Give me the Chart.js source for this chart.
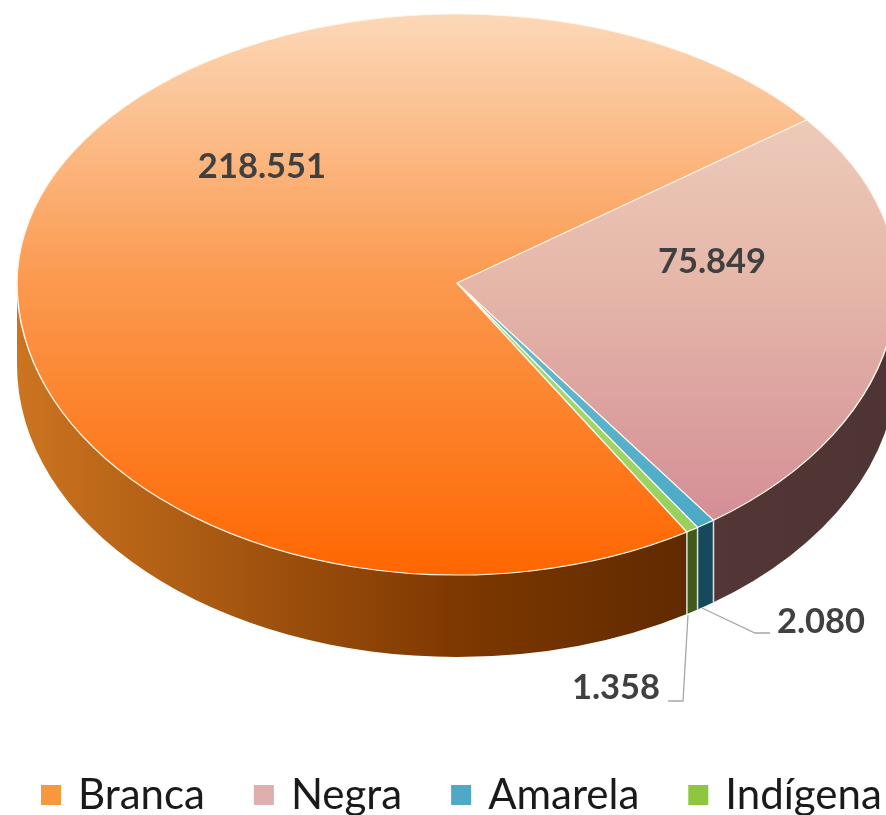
<!DOCTYPE html>
<html>
<head>
    <meta charset="utf-8">
    <title>Branca Negra Amarela Indígena</title>
    <script src="https://cdn.jsdelivr.net/npm/chart.js"></script>
    <style>
        html, body {
            margin: 0;
            background-color: #ffffff;
            overflow: hidden;
            width: 886px;
            height: 815px;
        }
        #chart {
            position: absolute;
            left: -8px;
            top: 0;
        }
    </style>
</head>
<body>
    <canvas id="chart" width="960" height="826"></canvas>

    <script>
        // Values
        const categories = ['Branca', 'Negra', 'Amarela', 'Indígena'];
        const values = [218551, 75849, 2080, 1358];
        const valueLabels = ['218.551', '75.849', '2.080', '1.358'];

        // Top face gradient per slice (top, apex height, bottom)
        const faceColors = [
            ['#fcd8b8', '#fb994e', '#ff6600'],
            ['#f2d6c4', '#e5b7a9', '#d08592'],
            ['#a9dbe8', '#6fbcd2', '#43a6c4'],
            ['#d3eab0', '#b0da7c', '#92cf56']
        ];
        // Side wall gradient per slice (left to right across the pie)
        const sideColors = [
            ['#cc7420', '#7e3800', '#451e00'],
            ['#6a4646', '#5a3a3a', '#4e3434'],
            ['#17495c', '#17495c', '#17495c'],
            ['#41591a', '#41591a', '#41591a']
        ];
        const legendColors = ['#f8973e', '#e0aeac', '#4fa8c5', '#8fc640'];

        // Pie placement on the canvas (canvas sits 8px left of the window)
        const centerX = 465;
        const apexY = 283;
        const radius = 440;
        const topRadiusY = 269;
        const bottomRadiusY = 292;
        const depth = 82;

        // Where the value labels sit, in canvas pixels
        const labelSpots = [
            { x: 270, y: 167 },
            { x: 720, y: 262 },
            { x: 829, y: 622 },
            { x: 624, y: 688 }
        ];
        const leaderLines = [
            null,
            null,
            [[710, 608], [763, 633], [778, 633]],
            [[696, 615], [691, 701], [676, 701]]
        ];

        function wallSpans(arc) {
            const spans = [];
            [0, Math.PI * 2].forEach(shift => {
                const a0 = Math.max(arc.startAngle - shift, 0);
                const a1 = Math.min(arc.endAngle - shift, Math.PI);
                if (a1 > a0) spans.push([a0, a1]);
            });
            return spans;
        }

        const pie3d = {
            id: 'pie3d',
            beforeDatasetDraw(chart, args) {
                const ctx = chart.ctx;
                const arcs = args.meta.data;

                // Side walls
                const sideGrad = colors => {
                    const g = ctx.createLinearGradient(centerX - radius, 0, centerX + radius, 0);
                    g.addColorStop(0, colors[0]);
                    g.addColorStop(0.5, colors[1]);
                    g.addColorStop(1, colors[2]);
                    return g;
                };
                arcs.forEach((arc, i) => {
                    wallSpans(arc).forEach(([a0, a1]) => {
                        ctx.beginPath();
                        ctx.ellipse(centerX, apexY, radius, bottomRadiusY, 0, a0, a1);
                        ctx.ellipse(centerX, apexY + depth, radius, bottomRadiusY, 0, a1, a0, true);
                        ctx.closePath();
                        ctx.fillStyle = sideGrad(sideColors[i]);
                        ctx.fill();
                    });
                });

                // Light seams between the small wall pieces
                ctx.strokeStyle = '#dfe6d8';
                ctx.lineWidth = 1.5;
                arcs.slice(1).forEach(arc => {
                    const a = arc.endAngle - Math.PI * 2;
                    const a2 = a < 0 ? arc.endAngle : a;
                    const x = centerX + radius * Math.cos(a2);
                    const y = apexY + bottomRadiusY * Math.sin(a2);
                    ctx.beginPath();
                    ctx.moveTo(x, y);
                    ctx.lineTo(x, y + depth);
                    ctx.stroke();
                });

                // Top face: the library draws the arcs, squashed around the apex
                const drawHalf = (clipY, clipH, ratio) => {
                    const arc = arcs[0];
                    ctx.save();
                    ctx.beginPath();
                    ctx.rect(0, clipY, chart.width, clipH);
                    ctx.clip();
                    ctx.translate(centerX, apexY);
                    ctx.scale(1, ratio);
                    ctx.translate(-arc.x, -arc.y);
                    args.meta.controller.draw();
                    ctx.restore();
                };
                drawHalf(0, apexY, topRadiusY / radius);
                drawHalf(apexY, chart.height - apexY, bottomRadiusY / radius);
                return false;
            },
            afterDatasetsDraw(chart) {
                const ctx = chart.ctx;
                ctx.save();
                ctx.strokeStyle = '#a6a6a6';
                ctx.lineWidth = 1.3;
                leaderLines.forEach(line => {
                    if (!line) return;
                    ctx.beginPath();
                    line.forEach(([x, y], i) => i ? ctx.lineTo(x, y) : ctx.moveTo(x, y));
                    ctx.stroke();
                });
                ctx.fillStyle = '#404040';
                ctx.font = 'bold 34.5px Lato';
                ctx.textAlign = 'center';
                ctx.textBaseline = 'middle';
                valueLabels.forEach((text, i) => {
                    ctx.fillText(text, labelSpots[i].x, labelSpots[i].y);
                });
                ctx.restore();
            }
        };

        function faceGradient(context) {
            const colors = faceColors[context.dataIndex];
            const area = context.chart.chartArea;
            if (!area) return colors[1];
            const cy = (area.top + area.bottom) / 2;
            const g = context.chart.ctx.createLinearGradient(0, cy - radius, 0, cy + radius);
            g.addColorStop(0, colors[0]);
            g.addColorStop(0.5, colors[1]);
            g.addColorStop(1, colors[2]);
            return g;
        }

        new Chart(document.getElementById('chart').getContext('2d'), {
            type: 'pie',
            data: {
                labels: categories,
                datasets: [{
                    data: values,
                    backgroundColor: faceGradient,
                    borderColor: '#fdf6ea',
                    borderWidth: 1.5
                }]
            },
            options: {
                responsive: false,
                animation: false,
                rotation: 148.5,
                radius: radius,
                plugins: {
                    tooltip: { enabled: false },
                    legend: {
                        position: 'bottom',
                        align: 'start',
                        labels: {
                            color: '#1a1a1a',
                            font: { family: 'Lato', size: 42 },
                            boxWidth: 12,
                            boxHeight: 12,
                            padding: 53,
                            generateLabels: chart => categories.map((text, i) => ({
                                text: text,
                                fillStyle: legendColors[i],
                                strokeStyle: legendColors[i],
                                lineWidth: 8,
                                fontColor: '#1a1a1a',
                                index: i
                            }))
                        }
                    }
                }
            },
            plugins: [pie3d]
        });
    </script>
</body>
</html>
